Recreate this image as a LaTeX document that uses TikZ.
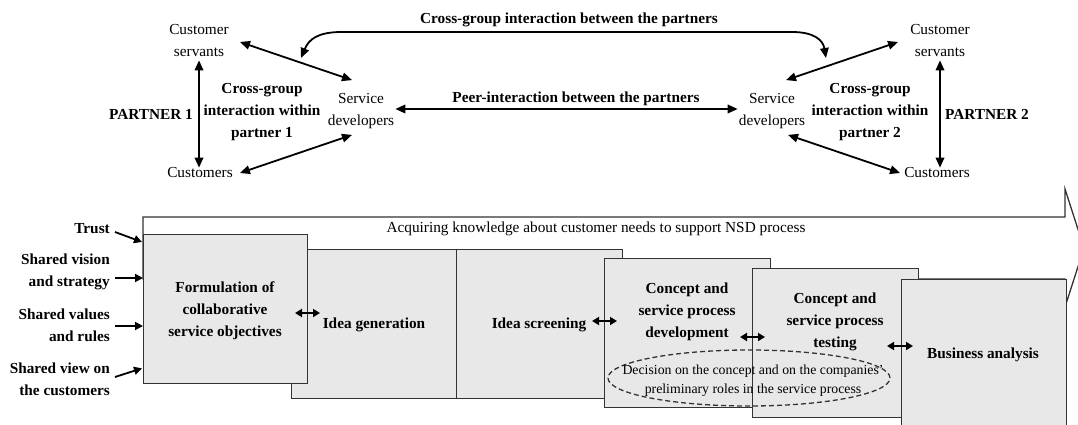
\documentclass[tikz,border=0pt]{standalone}
\usepackage{fontspec}
\setmainfont{Liberation Serif}
\usetikzlibrary{arrows.meta,calc,shapes.geometric}
\definecolor{boxfill}{HTML}{E8E8E8}
\definecolor{edge}{HTML}{333333}
\begin{document}
\begin{tikzpicture}[x=1pt,y=-1pt,
  lbl/.style={font=\fontsize{15.3}{22}\selectfont, align=center, inner sep=1pt},
  blbl/.style={lbl, font=\fontsize{15.3}{22}\selectfont\bfseries},
  small/.style={font=\fontsize{13.8}{19}\selectfont, align=center, inner sep=1pt},
  dbl/.style={line width=1.8pt, {Triangle[length=10pt,width=8.5pt]}-{Triangle[length=10pt,width=8.5pt]}},
  sarr/.style={line width=1.8pt, -{Triangle[length=8pt,width=8pt]}},
  tiny/.style={line width=1.8pt, {Triangle[length=7pt,width=8pt]}-{Triangle[length=7pt,width=8pt]}},
  stage/.style={draw=edge, line width=1.3pt, fill=boxfill, inner sep=0pt, anchor=north west},
]
\useasboundingbox (0,0) rectangle (1078,425);
\clip (0,0) rectangle (1078,425);

% ---------------- top diagram ----------------
\node[lbl] (cs1) at (199,41) {Customer\\servants};
\node[lbl] (sd1) at (361,111) {Service\\developers};
\node[lbl] (cu1) at (200,173) {Customers};
\node[blbl] (p1) at (151,114) {PARTNER 1};
\node[blbl] (cg1) at (262,112) {Cross-group\\interaction within\\partner 1};

\node[lbl] (sd2) at (772,111) {Service\\developers};
\node[lbl] (cs2) at (940,41) {Customer\\servants};
\node[lbl] (cu2) at (937,173) {Customers};
\node[blbl] (cg2) at (870,112) {Cross-group\\interaction within\\partner 2};
\node[blbl] (p2) at (987,114) {PARTNER 2};

\node[blbl] (cgb) at (569,20) {Cross-group interaction between the partners};
\node[blbl] (peer) at (576,99) {Peer-interaction between the partners};

\draw[dbl] ([yshift=-2pt]cs1.south) -- ([yshift=-1pt]cs1.south |- cu1.north);
\draw[dbl] ([shift={(10,1)}]cs1.east) -- ([shift={(-9,-12)}]sd1.north);
\draw[dbl] ([shift={(6,0)}]cu1.east) -- ([shift={(-9,5)}]sd1.south);

\draw[dbl] ([yshift=-2pt]cs2.south) -- ([yshift=-1pt]cs2.south |- cu2.north);
\draw[dbl] ([shift={(14,-12)}]sd2.north) -- ([shift={(-11,1)}]cs2.west);
\draw[dbl] ([shift={(16,5)}]sd2.south) -- ([shift={(-3,0)}]cu2.west);

\draw[dbl] ([yshift=2pt]sd1.east) -- ([yshift=2pt]sd2.west);

\coordinate (cl) at (301,58);
\coordinate (cr) at (826,58);
\draw[dbl] (cl) .. controls (309,39) and (318,32) .. (342,32) -- (792,32) .. controls (814,32) and (823,40) .. (cr);

% ---------------- bottom diagram ----------------
\draw[draw=edge, line width=1.3pt, fill=white]
  (143,217) -- (1065,217) -- (1065,189) -- (1084,248) -- (1065,307) -- (1065,279) -- (143,279) -- cycle;
\node[lbl] (acq) at (596,229) {Acquiring knowledge about customer needs to support NSD process};

\node[stage, minimum width=165pt, minimum height=149pt] (ig) at (291,249) {};
\node[stage, minimum width=166pt, minimum height=149pt] (is) at (456,249) {};
\node[stage, minimum width=164pt, minimum height=149pt] (fo) at (143,234) {};
\node[stage, minimum width=166pt, minimum height=149pt] (cd) at (604,258) {};
\node[stage, minimum width=166pt, minimum height=149pt] (ct) at (752,268) {};
\node[stage, minimum width=165pt, minimum height=160pt] (ba) at (901,279) {};

\node[blbl] (fot) at (225,311) {Formulation of\\collaborative\\service objectives};
\node[blbl] (igt) at (374,325) {Idea generation};
\node[blbl] (ist) at (539,325) {Idea screening};
\node[blbl] (cdt) at (687,312) {Concept and\\service process\\development};
\node[blbl] (ctt) at (835,322) {Concept and\\service process\\testing};
\node[blbl] (bat) at (983,355) {Business analysis};

\node[draw=edge, line width=1.3pt, dash pattern=on 5pt off 3pt, ellipse, minimum width=282pt, minimum height=56pt, inner sep=0pt] (dec) at (749,378) {};
\node[small] (dect) at (753,381) {Decision on the concept and on the companies'\\preliminary roles in the service process};

\coordinate (a1l) at (295,313); \coordinate (a1r) at (320,313);
\coordinate (a2l) at (592,321); \coordinate (a2r) at (617,321);
\coordinate (a3l) at (740,337); \coordinate (a3r) at (765,337);
\coordinate (a4l) at (887,346); \coordinate (a4r) at (913,346);
\draw[tiny] (a1l) -- (a1r);
\draw[tiny] (a2l) -- (a2r);
\draw[tiny] (a3l) -- (a3r);
\draw[tiny] (a4l) -- (a4r);

% left factors
\node[blbl, align=right, anchor=east] (tr) at (111,229) {Trust};
\node[blbl, align=right, anchor=east] (vis) at (111,272) {Shared vision\\and strategy};
\node[blbl, align=right, anchor=east] (val) at (111,325) {Shared values\\and rules};
\node[blbl, align=right, anchor=east] (vw) at (111,379) {Shared view on\\the customers};

\coordinate (visA) at ([shift={(4,6)}]vis.east);
\coordinate (valA) at ([shift={(4,1)}]val.east);
\draw[sarr] ([shift={(4,3)}]tr.east) -- ([shift={(-1,8)}]fo.north west);
\draw[sarr] (visA) -- (visA -| fo.west);
\draw[sarr] (valA) -- (valA -| fo.west);
\draw[sarr] ([shift={(4,-2)}]vw.east) -- ([shift={(-1,-16)}]fo.south west);
\end{tikzpicture}
\end{document}
